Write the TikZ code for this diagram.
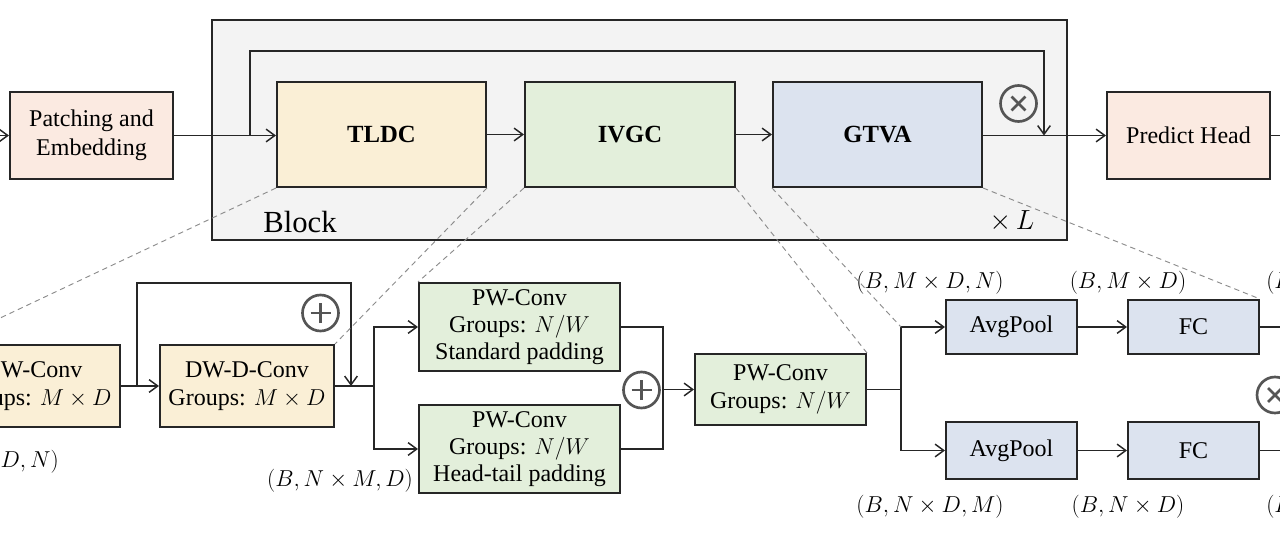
\documentclass[tikz,border=0pt]{standalone}
\usepackage{fontspec}
\setmainfont{Liberation Serif}
\usetikzlibrary{arrows.meta}
\definecolor{edge}{HTML}{262626}
\definecolor{peach}{HTML}{FBEAE1}
\definecolor{ylw}{HTML}{FAEFD6}
\definecolor{grn}{HTML}{E3EFDB}
\definecolor{blu}{HTML}{DCE3EF}
\definecolor{blk}{HTML}{F3F3F3}
\definecolor{opgray}{HTML}{555555}
\definecolor{dashgray}{HTML}{8C8C8C}
\tikzset{
  box/.style={draw=edge, line width=1.5pt, inner sep=0pt, align=center,
    font=\fontsize{18}{21.5}\selectfont},
  wh/.style 2 args={minimum width=#1*0.75pt, minimum height=#2*0.75pt},
  arr/.style={-{Straight Barb[length=6.5pt,width=9.5pt]}, line width=1.1pt, draw=edge},
  ln/.style={line width=1.1pt, draw=edge},
  dsh/.style={draw=dashgray, line width=0.7pt, dash pattern=on 4pt off 3pt},
  opc/.style={circle, draw=opgray, line width=2pt, minimum size=27pt, inner sep=0pt},
  plus/.style={opc, path picture={
      \draw[opgray, line width=2pt] ([xshift=-7.5pt]path picture bounding box.center) -- ([xshift=7.5pt]path picture bounding box.center);
      \draw[opgray, line width=2pt] ([yshift=-7.5pt]path picture bounding box.center) -- ([yshift=7.5pt]path picture bounding box.center);}},
  times/.style={opc, path picture={
      \draw[opgray, line width=2pt] ([shift={(-5.2pt,-5.2pt)}]path picture bounding box.center) -- ([shift={(5.2pt,5.2pt)}]path picture bounding box.center);
      \draw[opgray, line width=2pt] ([shift={(-5.2pt,5.2pt)}]path picture bounding box.center) -- ([shift={(5.2pt,-5.2pt)}]path picture bounding box.center);}},
  lbl/.style={font=\fontsize{17}{20}\selectfont, inner sep=0pt},
}
\begin{document}
\begin{tikzpicture}[x=0.75pt, y=-0.75pt]
\useasboundingbox (0,0) rectangle (1280,545);
\clip (0,0) rectangle (1280,545);
% ---------- top row ----------
\node[box, fill=blk, wh={855}{220}] (block) at (639.5,130) {};
\node[box, fill=peach, wh={163}{87}] (pe) at (91.5,135.5) {Patching and\\Embedding};
\node[box, fill=ylw, wh={209}{105}, font=\fontsize{18.5}{21}\selectfont\bfseries] (tldc) at (381.5,134.5) {TLDC};
\node[box, fill=grn, wh={210}{105}, font=\fontsize{18.5}{21}\selectfont\bfseries] (ivgc) at (630,134.5) {IVGC};
\node[box, fill=blu, wh={209}{105}, font=\fontsize{18.5}{21}\selectfont\bfseries] (gtva) at (877.5,134.5) {GTVA};
\node[box, fill=peach, wh={163}{87}] (ph) at (1188.5,135.5) {Predict Head};
\node[font=\fontsize{23}{26}\selectfont, inner sep=0pt] (blocklbl) at (300,222) {Block};
\node[font=\fontsize{20}{24}\selectfont, inner sep=0pt] (xl) at (1012,221) {$\times\, L$};
\node[times] (m1) at (1018.5,103.5) {};
\coordinate (in0) at (-20,135.5);
\coordinate (out0) at (1300,135.5);
\coordinate (s1) at (250,135.5);
\coordinate (s2) at (1044,135.5);
\draw[arr] (in0) -- (pe.west);
\draw[arr] (pe.east) -- (tldc.west |- pe.east);
\draw[arr] (s1) -- ++(0,-84.5) -| (s2);
\draw[arr] (tldc.east) -- (ivgc.west);
\draw[arr] (ivgc.east) -- (gtva.west);
\draw[arr] (gtva.east |- ph.west) -- (ph.west);
\draw[ln] (ph.east) -- (out0);
% ---------- bottom row ----------
\node[box, fill=ylw, wh={174}{82}] (dwc) at (33,386) {DW-Conv\\Groups: $M \times D$};
\node[box, fill=ylw, wh={174}{82}] (dwd) at (247,386) {DW-D-Conv\\Groups: $M \times D$};
\node[box, fill=grn, wh={201}{88}, font=\fontsize{18}{20.5}\selectfont] (pws) at (519.5,327) {PW-Conv\\Groups: $N/W$\\Standard padding};
\node[box, fill=grn, wh={201}{88}, font=\fontsize{18}{20.5}\selectfont] (pwh) at (519.5,449) {PW-Conv\\Groups: $N/W$\\Head-tail padding};
\node[box, fill=grn, wh={171}{71}] (pwr) at (780.5,389.5) {PW-Conv\\Groups: $N/W$};
\node[box, fill=blu, wh={131}{54}] (ap1) at (1011.5,327) {AvgPool};
\node[box, fill=blu, wh={131}{57}] (ap2) at (1011.5,450.5) {AvgPool};
\node[box, fill=blu, wh={131}{54}] (fc1) at (1193.5,327) {FC};
\node[box, fill=blu, wh={131}{57}] (fc2) at (1193.5,450.5) {FC};
\node[plus] (p1) at (320.5,313) {};
\node[plus] (p2) at (641.5,390) {};
\node[times] (m2) at (1275,395) {};
% labels
\node[lbl, anchor=east] (l0) at (59,462) {$(B, M \times D, N)$};
\node[lbl] (l1) at (340,481) {$(B, N \times M, D)$};
\node[lbl] (l2) at (930,283) {$(B, M \times D, N)$};
\node[lbl] (l3) at (1128,283) {$(B, M \times D)$};
\node[lbl] (l4) at (930,507) {$(B, N \times D, M)$};
\node[lbl] (l5) at (1128,507) {$(B, N \times D)$};
\node[lbl, anchor=west] (l6) at (1266,283) {$(B, M)$};
\node[lbl, anchor=west] (l7) at (1266,507) {$(B, N)$};
% connectors
\coordinate (k1) at (137,386);
\coordinate (k2) at (351,386);
\coordinate (b1) at (374,386);
\coordinate (mg) at (663,389.5);
\coordinate (b2) at (901,389.5);
\coordinate (o1) at (1300,327);
\coordinate (o2) at (1300,450.5);
\draw[arr] (dwc.east) -- (dwd.west);
\draw[arr] (k1) -- ++(0,-103) -| (k2);
\draw[ln] (dwd.east) -- (b1);
\draw[arr] (b1) |- (pws.west);
\draw[arr] (b1) |- (pwh.west);
\draw[ln] (pws.east) -| (mg);
\draw[ln] (pwh.east) -| (mg);
\draw[arr] (mg) -- (pwr.west);
\draw[ln] (pwr.east) -- (b2);
\draw[arr] (b2) |- (ap1.west);
\draw[arr] (b2) |- (ap2.west);
\draw[arr] (ap1) -- (fc1);
\draw[arr] (ap2) -- (fc2);
\draw[ln] (fc1.east) -- (o1);
\draw[ln] (fc2.east) -- (o2);
% dashed zoom lines
\coordinate (b2top) at (901,327);
\draw[dsh] (tldc.south west) -- (dwc.north west);
\draw[dsh] (tldc.south east) -- (dwd.north east);
\draw[dsh] (ivgc.south west) -- (pws.north west);
\draw[dsh] (ivgc.south east) -- (pwr.north east);
\draw[dsh] (gtva.south west) -- (b2top);
\draw[dsh] (gtva.south east) -- (fc1.north east);
\end{tikzpicture}
\end{document}
